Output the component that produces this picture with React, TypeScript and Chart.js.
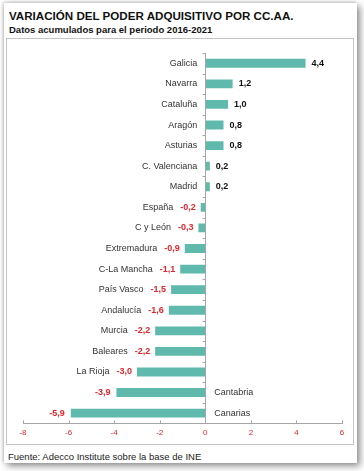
import React, { useEffect, useRef } from "react";
import { Chart, registerables } from "chart.js";

Chart.register(...registerables);

const categories = [
  "Galicia", "Navarra", "Cataluña", "Aragón", "Asturias", "C. Valenciana", "Madrid",
  "España", "C y León", "Extremadura", "C-La Mancha", "País Vasco", "Andalucía",
  "Murcia", "Baleares", "La Rioja", "Cantabria", "Canarias",
];
const values = [4.4, 1.2, 1.0, 0.8, 0.8, 0.2, 0.2, -0.2, -0.3, -0.9, -1.1, -1.5, -1.6, -2.2, -2.2, -3.0, -3.9, -5.9];
const xMin = -8;
const xMax = 6;
const xStep = 2;

const TITLE = "VARIACIÓN DEL PODER ADQUISITIVO POR CC.AA.";
const SUBTITLE = "Datos acumulados para el periodo 2016-2021";
const SOURCE = "Fuente: Adecco Institute sobre la base de INE";

const FONT = "Arial, 'Liberation Sans', sans-serif";
const BAR = "#5fb9ad";
const RED = "#e3262b";
const AXIS = "#a6a6a6";

const fmt = (v: number) => v.toFixed(1).replace(".", ",");

const overlay = {
  id: "overlay",
  afterDraw(chart: any) {
    const { ctx, chartArea } = chart;
    const xs = chart.scales.x;
    const ys = chart.scales.y;
    const zero = xs.getPixelForValue(0);
    ctx.save();
    ctx.strokeStyle = AXIS;
    ctx.lineWidth = 1;
    const zx = Math.round(zero) + 0.5;
    ctx.beginPath();
    ctx.moveTo(zx, chartArea.top);
    ctx.lineTo(zx, chartArea.bottom);
    ctx.stroke();
    const n = categories.length;
    const half = (ys.getPixelForValue(1) - ys.getPixelForValue(0)) / 2;
    for (let i = 0; i <= n; i++) {
      const y = Math.round(ys.getPixelForValue(i) - half) + 0.5;
      ctx.beginPath();
      ctx.moveTo(zx - 3, y);
      ctx.lineTo(zx, y);
      ctx.stroke();
    }
    xs.ticks.forEach((t: any) => {
      const x = Math.round(xs.getPixelForValue(t.value)) + 0.5;
      ctx.beginPath();
      ctx.moveTo(x, chartArea.bottom);
      ctx.lineTo(x, chartArea.bottom - 3);
      ctx.stroke();
    });
    ctx.textBaseline = "middle";
    const boldFont = `bold 9px ${FONT}`;
    const nameFont = `9px ${FONT}`;
    values.forEach((v, i) => {
      const y = ys.getPixelForValue(i);
      const end = xs.getPixelForValue(v);
      const valTxt = fmt(v);
      if (v >= 0) {
        ctx.font = nameFont;
        ctx.fillStyle = "#333";
        ctx.textAlign = "right";
        ctx.fillText(categories[i], zero - 8, y);
        ctx.font = boldFont;
        ctx.fillStyle = "#111";
        ctx.textAlign = "left";
        ctx.fillText(valTxt, end + 6, y);
      } else if (v > -3.5) {
        ctx.font = boldFont;
        ctx.fillStyle = RED;
        ctx.textAlign = "right";
        const vr = end - 5;
        ctx.fillText(valTxt, vr, y);
        const w = ctx.measureText(valTxt).width;
        ctx.font = nameFont;
        ctx.fillStyle = "#333";
        ctx.fillText(categories[i], vr - w - 7, y);
      } else {
        ctx.font = boldFont;
        ctx.fillStyle = RED;
        ctx.textAlign = "right";
        ctx.fillText(valTxt, end - 6, y);
        ctx.font = nameFont;
        ctx.fillStyle = "#333";
        ctx.textAlign = "left";
        ctx.fillText(categories[i], zero + 9, y);
      }
    });
    ctx.restore();
  },
};

export default function App() {
  const ref = useRef<HTMLCanvasElement>(null);
  useEffect(() => {
    if (!ref.current) return;
    const chart = new Chart(ref.current, {
      type: "bar",
      data: {
        labels: categories,
        datasets: [
          {
            data: values,
            backgroundColor: BAR,
            borderWidth: 0,
            barPercentage: 0.43,
            categoryPercentage: 1,
          },
        ],
      },
      options: {
        indexAxis: "y",
        responsive: false,
        animation: false,
        layout: { padding: { left: 16, right: 11, top: 14, bottom: 1 } },
        plugins: { legend: { display: false }, tooltip: { enabled: false } },
        scales: {
          x: {
            type: "linear",
            min: xMin,
            max: xMax,
            ticks: { stepSize: xStep, color: RED, font: { size: 8, family: FONT }, padding: 5 },
            grid: { display: false, drawTicks: false },
            border: { display: true, color: AXIS, width: 1 },
          },
          y: { display: false },
        },
      } as any,
      plugins: [overlay],
    });
    return () => chart.destroy();
  }, []);

  return (
    <div
      style={{
        position: "absolute",
        left: 0,
        top: 0,
        width: 364,
        height: 471,
        background: "#fff",
        overflow: "hidden",
        fontFamily: FONT,
      }}
    >
      <div
        style={{
          position: "absolute",
          left: 4,
          top: 3,
          width: 353,
          height: 460,
          background: "#fff",
          boxShadow: "3px 3px 7px rgba(0,0,0,0.45), -1px -1px 3px rgba(0,0,0,0.2)",
        }}
      >
        <div style={{ position: "absolute", left: 5, top: 7, fontSize: 11.6, fontWeight: "bold", lineHeight: 1, whiteSpace: "nowrap", color: "#111" }}>
          {TITLE}
        </div>
        <div style={{ position: "absolute", left: 5, top: 22, fontSize: 9.5, fontWeight: "bold", lineHeight: 1, whiteSpace: "nowrap", color: "#111" }}>
          {SUBTITLE}
        </div>
        <div
          style={{
            position: "absolute",
            left: 2,
            top: 35,
            width: 348,
            height: 407,
            boxSizing: "border-box",
            border: "1px solid #c4c4c4",
          }}
        >
          <canvas ref={ref} width={346} height={405} style={{ display: "block", width: 346, height: 405 }} />
        </div>
        <div style={{ position: "absolute", left: 4, top: 449, fontSize: 9.5, lineHeight: 1, whiteSpace: "nowrap", color: "#222" }}>
          {SOURCE}
        </div>
      </div>
    </div>
  );
}
